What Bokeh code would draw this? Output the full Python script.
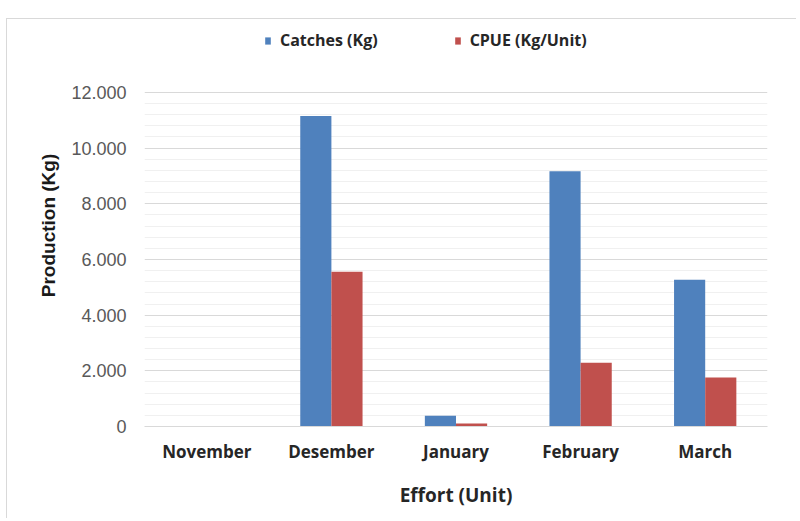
from bokeh.plotting import figure
from bokeh.models import ColumnDataSource, FactorRange, FixedTicker, Legend, LegendItem
from bokeh.transform import dodge
from bokeh.embed import file_html
from bokeh.resources import INLINE

months = ["November", "Desember", "January", "February", "March"]
catches = [0, 11150, 390, 9170, 5270]
cpue = [0, 5560, 110, 2290, 1760]
y_ticks = [0, 2000, 4000, 6000, 8000, 10000, 12000]
y_tick_labels = ["0", "2.000", "4.000", "6.000", "8.000", "10.000", "12.000"]
y_minor_ticks = [v for v in range(0, 12001, 400) if v % 2000 != 0]
series_names = ["Catches (Kg)", "CPUE (Kg/Unit)"]
colors = ["#4F81BD", "#C0504D"]
x_title = "Effort (Unit)"
y_title = "Production (Kg)"

src = ColumnDataSource(dict(month=months, catches=catches, cpue=cpue))

# the frame reaches up to the legend row; gridlines stop at the top tick
p = figure(x_range=FactorRange(factors=months, range_padding=0), y_range=(0, 14440),
           width=790, height=500, output_backend="svg", toolbar_location=None,
           min_border_left=137, min_border_right=30, min_border_top=5, min_border_bottom=93)
p.margin = (18, 0, 0, 6)
p.styles = {"border-top": "1px solid #d9d9d9", "border-left": "1px solid #d9d9d9"}
p.outline_line_color = None
p.background_fill_color = "white"
p.border_fill_color = "white"

r1 = p.vbar(x=dodge("month", -0.125, range=p.x_range), top="catches", width=0.25,
            source=src, fill_color=colors[0], line_color=None)
r2 = p.vbar(x=dodge("month", 0.125, range=p.x_range), top="cpue", width=0.25,
            source=src, fill_color=colors[1], line_color=None)

p.yaxis.ticker = FixedTicker(ticks=y_ticks, minor_ticks=y_minor_ticks)
p.yaxis.major_label_overrides = {t: l for t, l in zip(y_ticks, y_tick_labels)}
p.yaxis.axis_line_color = None
p.yaxis.major_tick_line_color = None
p.yaxis.minor_tick_line_color = None
p.yaxis.major_label_text_font = "Liberation Sans"
p.yaxis.major_label_text_font_size = "18px"
p.yaxis.major_label_text_color = "#595959"
p.yaxis.major_label_standoff = 12
p.yaxis.axis_label = y_title
p.yaxis.axis_label_text_font = "Liberation Sans"
p.yaxis.axis_label_text_font_style = "bold"
p.yaxis.axis_label_text_font_size = "19px"
p.yaxis.axis_label_text_color = "#1a1a1a"
p.yaxis.axis_label_standoff = 9

p.xaxis.axis_line_color = "#d9d9d9"
p.xaxis.major_tick_line_color = None
p.xaxis.minor_tick_line_color = None
p.xaxis.major_label_text_font = "Open Sans"
p.xaxis.major_label_text_font_style = "bold"
p.xaxis.major_label_text_font_size = "17px"
p.xaxis.major_label_text_color = "#262626"
p.xaxis.major_label_standoff = 7
p.xaxis.axis_label = x_title
p.xaxis.axis_label_text_font = "Open Sans"
p.xaxis.axis_label_text_font_style = "bold"
p.xaxis.axis_label_text_font_size = "19px"
p.xaxis.axis_label_text_color = "#262626"
p.xaxis.axis_label_standoff = 16

p.xgrid.grid_line_color = None
p.ygrid.grid_line_color = "#d9d9d9"
p.ygrid.minor_grid_line_color = "#f0f0f0"

legend = Legend(items=[LegendItem(label=series_names[0], renderers=[r1]),
                       LegendItem(label=series_names[1], renderers=[r2])],
                location=(120, 375), orientation="horizontal",
                border_line_color=None, background_fill_alpha=0,
                glyph_width=7, glyph_height=9, label_standoff=9, spacing=76,
                padding=0, margin=0,
                label_text_font="Open Sans", label_text_font_style="bold",
                label_text_font_size="16px", label_text_color="#262626")
p.add_layout(legend)

open("out.html", "w").write(file_html(p, INLINE))
